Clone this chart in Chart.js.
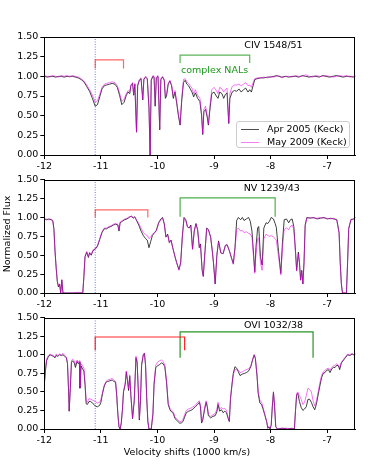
<!DOCTYPE html>
<html>
<head>
<meta charset="utf-8">
<script src="https://cdn.jsdelivr.net/npm/chart.js@4.4.0/dist/chart.umd.min.js"></script>
<style>
  body { margin: 0; background: #fff; }
  #wrap { position: relative; width: 374px; height: 467px; font-family: "DejaVu Sans", sans-serif; font-size: 9.5px; color: #000; }
  canvas { position: absolute; left: 0; }
  .txt { position: absolute; white-space: nowrap; line-height: 12px; height: 12px; }
  #legend { position: absolute; left: 236px; top: 121px; width: 114px; height: 27px; box-sizing: border-box;
            border: 1px solid #ccc; border-radius: 3px; background: rgba(255,255,255,0.8); }
  .swatch { position: absolute; height: 1px; width: 18px; left: 4px; }
</style>
</head>
<body>
<div id="wrap">
  <canvas id="c1" width="374" height="172" style="top:0px"></canvas>
  <canvas id="c2" width="374" height="138" style="top:172px"></canvas>
  <canvas id="c3" width="374" height="157" style="top:310px"></canvas>
  <div id="legend">
    <div class="swatch" style="top:7px; background:rgba(0,0,0,0.7)"></div>
    <div class="txt" style="left:30px; top:1px">Apr 2005 (Keck)</div>
    <div class="swatch" style="top:20px; background:rgba(238,0,238,0.5)"></div>
    <div class="txt" style="left:30px; top:14px">May 2009 (Keck)</div>
  </div>
  <div class="txt" style="left:-43px; top:228px; width:100px; text-align:center; transform:rotate(-90deg)">Normalized Flux</div>
  <div class="txt" style="left:87px; top:446px; width:200px; text-align:center">Velocity shifts (1000 km/s)</div>
</div>
<script>
// axis ticks
const xTicks = [-12, -11, -10, -9, -8, -7];
const yTicks = [0, 0.25, 0.5, 0.75, 1.0, 1.25, 1.5];

// CIV 1548/51
const civVel = [
  -12.00,-11.95,-11.90,-11.85,-11.80,-11.75,-11.70,-11.65,-11.60,-11.55,
  -11.50,-11.45,-11.40,-11.35,-11.30,-11.25,-11.20,-11.15,-11.10,-11.06,
  -11.02,-10.98,-10.94,-10.90,-10.85,-10.80,-10.75,-10.71,-10.67,-10.63,
  -10.59,-10.55,-10.52,-10.49,-10.47,-10.44,-10.42,-10.40,-10.37,-10.35,
  -10.32,-10.29,-10.26,-10.24,-10.21,-10.18,-10.15,-10.13,-10.11,-10.08,
  -10.06,-10.04,-10.02,-9.99,-9.96,-9.94,-9.91,-9.88,-9.86,-9.84,
  -9.81,-9.78,-9.75,-9.72,-9.69,-9.66,-9.63,-9.60,-9.57,-9.54,
  -9.51,-9.48,-9.45,-9.42,-9.39,-9.36,-9.33,-9.29,-9.25,-9.22,
  -9.20,-9.18,-9.15,-9.12,-9.10,-9.07,-9.04,-9.00,-8.96,-8.93,
  -8.90,-8.86,-8.83,-8.80,-8.77,-8.74,-8.72,-8.68,-8.64,-8.60,
  -8.56,-8.52,-8.48,-8.44,-8.40,-8.37,-8.34,-8.31,-8.28,-8.24,
  -8.18,-8.12,-8.06,-8.00,-7.94,-7.90,-7.86,-7.80,-7.74,-7.68,
  -7.62,-7.56,-7.50,-7.44,-7.38,-7.32,-7.26,-7.20,-7.14,-7.08,
  -7.02,-6.96,-6.90,-6.84,-6.78,-6.72,-6.66,-6.60,-6.54,-6.50
];
const civApr = [
  1.00,0.99,1.00,1.00,0.99,1.00,1.00,0.99,1.00,1.00,
  1.00,0.99,0.98,0.96,0.93,0.87,0.81,0.72,0.62,0.64,
  0.74,0.84,0.88,0.89,0.90,0.91,0.90,0.86,0.76,0.64,
  0.67,0.76,0.80,0.78,0.88,0.91,0.76,0.90,0.29,0.88,
  0.95,0.97,0.70,0.96,0.99,0.97,0.60,0.00,0.95,1.00,
  0.99,0.62,0.98,1.00,0.32,0.96,0.99,0.95,0.72,0.75,
  0.90,0.94,0.88,0.72,0.80,0.66,0.50,0.38,0.70,0.92,
  0.95,0.90,0.88,0.84,0.80,0.74,0.79,0.72,0.68,0.50,
  0.26,0.55,0.58,0.48,0.38,0.60,0.78,0.80,0.75,0.72,
  0.80,0.78,0.72,0.77,0.79,0.40,0.72,0.80,0.82,0.81,
  0.84,0.80,0.83,0.85,0.80,0.83,0.80,0.88,0.96,0.97,
  0.98,0.98,0.99,0.99,1.00,1.01,1.00,0.99,1.00,0.99,
  1.00,1.00,0.99,1.01,1.00,0.99,1.00,1.00,0.99,1.01,
  1.00,0.99,1.00,1.01,1.00,0.99,1.00,1.00,0.99,1.00
];
const civMay = [
  1.01,1.00,0.99,1.01,1.00,0.99,1.01,1.00,1.01,0.99,
  1.01,1.00,0.99,0.97,0.94,0.89,0.83,0.76,0.67,0.69,
  0.77,0.86,0.90,0.91,0.92,0.93,0.92,0.88,0.79,0.68,
  0.71,0.78,0.82,0.80,0.89,0.92,0.77,0.91,0.29,0.89,
  0.96,0.98,0.71,0.97,1.00,0.98,0.61,0.00,0.96,1.01,
  1.00,0.63,0.99,1.01,0.33,0.97,1.00,0.96,0.74,0.77,
  0.91,0.95,0.89,0.74,0.82,0.68,0.52,0.39,0.73,0.96,
  0.97,0.93,0.91,0.88,0.85,0.78,0.83,0.76,0.72,0.53,
  0.27,0.58,0.62,0.50,0.39,0.64,0.83,0.86,0.82,0.78,
  0.86,0.84,0.80,0.83,0.85,0.41,0.78,0.87,0.89,0.89,
  0.90,0.88,0.90,0.92,0.88,0.89,0.86,0.92,0.97,0.98,
  0.98,0.99,0.98,1.00,0.99,1.00,1.01,0.98,1.00,1.00,
  0.99,1.01,1.00,1.00,1.02,1.00,0.99,1.01,1.00,1.00,
  1.01,1.00,0.99,1.00,1.01,1.00,1.01,0.99,1.00,1.01
];

// NV 1239/43
const nvVel = [
  -12.00,-11.96,-11.92,-11.88,-11.85,-11.83,-11.81,-11.79,-11.77,-11.75,
  -11.73,-11.71,-11.69,-11.67,-11.60,-11.50,-11.40,-11.32,-11.30,-11.28,
  -11.25,-11.22,-11.20,-11.17,-11.14,-11.10,-11.06,-11.02,-10.98,-10.94,
  -10.90,-10.86,-10.82,-10.78,-10.74,-10.70,-10.68,-10.66,-10.62,-10.58,
  -10.54,-10.50,-10.46,-10.43,-10.40,-10.37,-10.33,-10.29,-10.25,-10.21,
  -10.18,-10.15,-10.12,-10.09,-10.05,-10.02,-9.98,-9.94,-9.91,-9.88,
  -9.85,-9.82,-9.79,-9.76,-9.73,-9.69,-9.66,-9.62,-9.59,-9.56,
  -9.53,-9.50,-9.47,-9.44,-9.41,-9.38,-9.35,-9.32,-9.29,-9.26,
  -9.24,-9.21,-9.19,-9.16,-9.13,-9.10,-9.06,-9.03,-9.01,-8.98,
  -8.95,-8.92,-8.88,-8.84,-8.80,-8.77,-8.73,-8.69,-8.66,-8.63,
  -8.60,-8.57,-8.53,-8.50,-8.47,-8.43,-8.39,-8.36,-8.33,-8.30,
  -8.28,-8.26,-8.23,-8.21,-8.18,-8.15,-8.12,-8.08,-8.05,-8.02,
  -7.99,-7.95,-7.92,-7.90,-7.86,-7.82,-7.79,-7.76,-7.72,-7.68,
  -7.65,-7.62,-7.59,-7.56,-7.54,-7.51,-7.49,-7.47,-7.45,-7.43,
  -7.41,-7.39,-7.36,-7.30,-7.24,-7.18,-7.12,-7.06,-7.00,-6.94,
  -6.88,-6.83,-6.79,-6.77,-6.75,-6.73,-6.68,-6.66,-6.64,-6.62,
  -6.58,-6.54,-6.50
];
const nvApr = [
  0.98,0.97,0.98,0.97,0.96,0.85,0.55,0.33,0.15,0.08,
  0.12,0.00,0.17,0.00,0.00,0.00,0.00,0.00,0.22,0.48,
  0.54,0.47,0.53,0.50,0.56,0.58,0.62,0.71,0.80,0.85,
  0.85,0.87,0.88,0.90,0.91,0.90,0.82,0.93,0.95,0.97,
  0.98,1.00,1.02,0.99,1.01,0.96,0.90,0.82,0.76,0.72,
  0.70,0.60,0.68,0.76,0.80,0.83,0.93,0.98,1.00,0.92,
  0.74,0.78,0.67,0.70,0.60,0.48,0.40,0.31,0.40,0.75,
  1.00,0.97,0.88,0.86,0.90,0.58,0.82,0.92,0.84,0.60,
  0.65,0.30,0.22,0.55,0.86,0.84,0.74,0.55,0.40,0.12,
  0.50,0.69,0.53,0.52,0.63,0.64,0.56,0.46,0.39,0.60,
  0.96,1.00,0.97,1.00,0.96,0.98,1.00,0.95,0.82,0.50,
  0.28,0.60,0.86,0.88,0.48,0.37,0.86,0.93,0.92,0.95,
  1.00,0.98,0.92,0.87,0.55,0.26,0.68,0.97,0.98,0.93,
  0.97,0.98,0.88,0.55,0.30,0.54,0.40,0.17,0.30,0.12,
  0.40,0.90,1.00,0.99,1.00,0.98,0.99,1.00,0.98,0.99,
  0.98,0.97,0.80,0.40,0.12,0.00,0.00,0.00,0.40,0.85,
  0.97,0.98,1.00
];
const nvMay = [
  0.97,0.98,0.97,0.98,0.95,0.84,0.54,0.33,0.16,0.09,
  0.12,0.00,0.18,0.00,0.00,0.00,0.01,0.00,0.23,0.49,
  0.55,0.48,0.54,0.51,0.57,0.59,0.63,0.72,0.81,0.86,
  0.86,0.88,0.89,0.91,0.92,0.91,0.83,0.94,0.96,0.98,
  0.99,1.01,1.01,1.00,1.00,0.97,0.92,0.86,0.80,0.77,
  0.76,0.72,0.74,0.78,0.80,0.82,0.92,0.97,0.99,0.91,
  0.74,0.77,0.66,0.70,0.60,0.48,0.40,0.30,0.40,0.76,
  0.99,0.96,0.87,0.86,0.89,0.58,0.82,0.91,0.83,0.60,
  0.64,0.30,0.22,0.56,0.85,0.84,0.74,0.55,0.40,0.12,
  0.50,0.68,0.53,0.52,0.63,0.64,0.56,0.46,0.38,0.58,
  0.84,0.86,0.82,0.83,0.80,0.81,0.79,0.78,0.74,0.46,
  0.26,0.50,0.72,0.73,0.40,0.30,0.72,0.78,0.76,0.75,
  0.76,0.74,0.72,0.70,0.48,0.24,0.60,0.84,0.86,0.84,
  0.88,0.90,0.84,0.52,0.29,0.52,0.39,0.17,0.29,0.12,
  0.39,0.88,0.99,1.00,0.99,0.99,1.00,0.99,0.99,0.98,
  0.99,0.96,0.79,0.40,0.12,0.00,0.00,0.00,0.41,0.86,
  0.98,0.97,1.00
];

// OVI 1032/38
const oviVel = [
  -12.00,-11.98,-11.96,-11.93,-11.90,-11.87,-11.84,-11.81,-11.79,-11.76,
  -11.73,-11.70,-11.67,-11.64,-11.61,-11.59,-11.57,-11.56,-11.54,-11.52,
  -11.50,-11.47,-11.45,-11.42,-11.40,-11.38,-11.37,-11.35,-11.33,-11.30,
  -11.28,-11.26,-11.24,-11.21,-11.18,-11.15,-11.12,-11.10,-11.06,-11.02,
  -11.00,-10.97,-10.94,-10.91,-10.88,-10.84,-10.80,-10.77,-10.74,-10.72,
  -10.70,-10.68,-10.66,-10.64,-10.62,-10.60,-10.57,-10.55,-10.53,-10.51,
  -10.49,-10.47,-10.44,-10.41,-10.38,-10.36,-10.34,-10.32,-10.30,-10.28,
  -10.25,-10.23,-10.21,-10.19,-10.17,-10.15,-10.11,-10.08,-10.06,-10.03,
  -10.00,-9.96,-9.93,-9.90,-9.87,-9.84,-9.81,-9.78,-9.75,-9.72,
  -9.69,-9.65,-9.61,-9.58,-9.55,-9.52,-9.49,-9.45,-9.41,-9.37,
  -9.33,-9.29,-9.26,-9.24,-9.22,-9.20,-9.17,-9.14,-9.12,-9.10,
  -9.06,-9.02,-8.98,-8.95,-8.93,-8.90,-8.87,-8.84,-8.81,-8.78,
  -8.75,-8.73,-8.71,-8.68,-8.66,-8.63,-8.60,-8.57,-8.54,-8.50,
  -8.46,-8.43,-8.39,-8.35,-8.32,-8.29,-8.27,-8.24,-8.22,-8.19,
  -8.16,-8.13,-8.10,-8.07,-8.05,-8.03,-8.01,-7.99,-7.97,-7.95,
  -7.93,-7.91,-7.88,-7.80,-7.70,-7.62,-7.58,-7.56,-7.54,-7.52,
  -7.49,-7.46,-7.43,-7.40,-7.37,-7.34,-7.31,-7.28,-7.25,-7.22,
  -7.19,-7.16,-7.13,-7.10,-7.07,-7.04,-7.01,-6.98,-6.95,-6.92,
  -6.89,-6.86,-6.83,-6.80,-6.78,-6.75,-6.71,-6.68,-6.64,-6.60,
  -6.56,-6.53,-6.50
];
const oviApr = [
  0.60,0.78,0.92,0.97,1.00,0.99,0.98,0.96,0.99,0.98,
  1.00,0.99,1.00,0.98,0.96,0.88,0.50,0.24,0.55,0.90,
  0.92,0.89,0.83,0.91,0.88,0.90,0.55,0.85,0.82,0.78,
  0.60,0.34,0.33,0.37,0.37,0.35,0.33,0.31,0.30,0.32,
  0.36,0.48,0.58,0.63,0.64,0.65,0.66,0.64,0.63,0.45,
  0.20,0.03,0.00,0.08,0.25,0.50,0.60,0.77,0.65,0.52,
  0.71,0.45,0.14,0.38,0.96,0.90,0.54,0.12,0.38,0.86,
  1.00,1.02,0.85,0.42,0.10,0.00,0.00,0.20,0.60,0.83,
  0.85,0.87,0.89,0.88,0.84,0.63,0.33,0.26,0.23,0.21,
  0.14,0.11,0.08,0.08,0.10,0.16,0.22,0.24,0.25,0.27,
  0.30,0.33,0.36,0.30,0.08,0.12,0.25,0.36,0.30,0.18,
  0.15,0.17,0.18,0.23,0.33,0.24,0.26,0.22,0.24,0.22,
  0.14,0.10,0.40,0.62,0.75,0.84,0.82,0.77,0.72,0.74,
  0.75,0.76,0.78,0.84,0.93,1.00,0.95,0.71,0.48,0.35,
  0.33,0.26,0.18,0.10,0.01,0.03,0.00,0.05,0.30,0.50,
  0.30,0.03,0.00,0.01,0.00,0.01,0.00,0.25,0.46,0.48,
  0.37,0.29,0.25,0.27,0.30,0.40,0.40,0.36,0.30,0.26,
  0.34,0.46,0.58,0.69,0.75,0.76,0.79,0.80,0.76,0.81,
  0.83,0.83,0.86,0.85,0.80,0.89,0.93,0.96,1.00,0.99,
  1.01,1.00,1.01
];
const oviMay = [
  0.61,0.80,0.94,0.99,1.01,1.00,0.99,0.97,1.01,0.99,
  1.01,1.00,1.02,0.99,0.97,0.89,0.51,0.24,0.56,0.92,
  0.94,0.92,0.86,0.93,0.90,0.92,0.56,0.88,0.86,0.82,
  0.62,0.37,0.36,0.41,0.40,0.39,0.38,0.37,0.35,0.36,
  0.40,0.50,0.59,0.64,0.66,0.67,0.68,0.66,0.64,0.46,
  0.20,0.03,0.00,0.08,0.26,0.51,0.62,0.78,0.67,0.54,
  0.73,0.47,0.15,0.40,0.98,0.92,0.56,0.13,0.40,0.88,
  1.01,1.02,0.86,0.43,0.11,0.00,0.00,0.21,0.62,0.86,
  0.90,0.92,0.93,0.91,0.86,0.65,0.35,0.28,0.25,0.23,
  0.16,0.13,0.10,0.10,0.13,0.19,0.25,0.27,0.28,0.30,
  0.32,0.36,0.38,0.32,0.09,0.13,0.28,0.38,0.32,0.20,
  0.17,0.19,0.21,0.26,0.36,0.27,0.29,0.27,0.28,0.25,
  0.15,0.11,0.41,0.62,0.73,0.80,0.80,0.79,0.76,0.77,
  0.79,0.80,0.81,0.85,0.93,1.00,0.96,0.73,0.50,0.39,
  0.36,0.28,0.19,0.10,0.02,0.03,0.01,0.06,0.31,0.50,
  0.31,0.04,0.00,0.01,0.01,0.00,0.01,0.26,0.48,0.50,
  0.45,0.40,0.33,0.36,0.45,0.55,0.53,0.50,0.38,0.31,
  0.38,0.50,0.62,0.72,0.77,0.79,0.81,0.82,0.79,0.83,
  0.85,0.86,0.88,0.86,0.82,0.90,0.94,0.97,1.01,1.00,
  1.02,1.00,1.01
];

// brackets: [x start, x end, top level, leg bottom]
const civRed = [-11.1, -10.6, 1.21, 1.10];
const civGreen = [-9.6, -8.37, 1.27, 1.17];
const nvRed = [-11.1, -10.17, 1.10, 1.00];
const nvGreen = [-9.6, -7.92, 1.26, 1.01];
const oviRed = [-11.1, -9.52, 1.24, 1.06];
const oviGreen = [-9.6, -7.25, 1.31, 0.96];
const markVel = -11.1;

Chart.defaults.font.family = '"DejaVu Sans", sans-serif';
Chart.defaults.font.size = 9.5;
Chart.defaults.color = '#000';

function bracket(b) {
    return [{x: b[0], y: b[3]}, {x: b[0], y: b[2]}, {x: b[1], y: b[2]}, {x: b[1], y: b[3]}];
}

// draws the box round the plot area and the text labels
const panelDeco = {
    id: 'panelDeco',
    afterDatasetsDraw(chart, args, opts) {
        const ctx = chart.ctx;
        const a = chart.chartArea;
        const xs = chart.scales.x, ys = chart.scales.y;
        ctx.save();
        ctx.textAlign = 'center';
        ctx.textBaseline = 'middle';
        ctx.font = '9.5px "DejaVu Sans"';
        for (const t of opts.labels) {
            ctx.fillStyle = t.color;
            ctx.fillText(t.text, xs.getPixelForValue(t.x), ys.getPixelForValue(t.y));
        }
        ctx.strokeStyle = '#000';
        ctx.lineWidth = 1;
        ctx.strokeRect(Math.round(a.left) + 0.5, Math.round(a.top) + 0.5,
                       Math.round(a.right - a.left) - 1, Math.round(a.bottom - a.top));
        ctx.restore();
    }
};

function makePanel(id, vel, apr, may, red, green, redColor, greenColor, labels, padTop, xHeight) {
    const ctx = document.getElementById(id).getContext('2d');
    new Chart(ctx, {
        type: 'line',
        data: {
            datasets: [
                {data: bracket(red), borderColor: redColor, borderWidth: 1.2, order: 0},
                {data: bracket(green), borderColor: greenColor, borderWidth: 1.2, order: 0},
                {data: [{x: markVel, y: 0}, {x: markVel, y: 1.5}], borderColor: 'rgba(0,0,255,0.7)',
                 borderWidth: 0.8, borderDash: [1, 1.5], order: 0},
                {data: vel.map((v, i) => ({x: v, y: may[i]})), borderColor: 'rgba(238,0,238,0.55)',
                 borderWidth: 1, order: 1},
                {data: vel.map((v, i) => ({x: v, y: apr[i]})), borderColor: 'rgba(0,0,0,0.75)',
                 borderWidth: 1, order: 2}
            ]
        },
        options: {
            responsive: false,
            animation: false,
            events: [],
            elements: {point: {radius: 0}, line: {tension: 0, fill: false}},
            layout: {padding: {top: padTop, right: 18.5, left: 0, bottom: 0}},
            plugins: {legend: {display: false}, tooltip: {enabled: false}, panelDeco: {labels: labels}},
            scales: {
                x: {
                    type: 'linear', min: -12, max: -6.5,
                    afterBuildTicks: s => { s.ticks = xTicks.map(v => ({value: v})); },
                    afterFit: s => { s.height = xHeight; },
                    ticks: {callback: v => String(v), padding: 2, maxRotation: 0, autoSkip: false},
                    grid: {drawOnChartArea: false, drawTicks: true, tickLength: 4, color: '#000'},
                    border: {display: true, color: '#000'}
                },
                y: {
                    min: 0, max: 1.5,
                    afterBuildTicks: s => { s.ticks = yTicks.map(v => ({value: v})); },
                    afterFit: s => { s.width = 44.3; },
                    ticks: {callback: v => v.toFixed(2), padding: 2},
                    grid: {drawOnChartArea: false, drawTicks: true, tickLength: 4, color: '#000'},
                    border: {display: true, color: '#000'}
                }
            }
        },
        plugins: [panelDeco]
    });
}

makePanel('c1', civVel, civApr, civMay, civRed, civGreen, 'rgba(255,0,0,0.6)', 'rgba(0,140,0,0.65)',
    [{text: 'CIV 1548/51', x: -7.95, y: 1.39, color: '#000'},
     {text: 'complex NALs', x: -8.99, y: 1.08, color: 'rgba(0,140,0,0.9)'}], 37, 17);
makePanel('c2', nvVel, nvApr, nvMay, nvRed, nvGreen, 'rgba(255,0,0,0.6)', 'rgba(0,140,0,0.7)',
    [{text: 'NV 1239/43', x: -7.98, y: 1.38, color: '#000'}], 2, 17);
makePanel('c3', oviVel, oviApr, oviMay, oviRed, oviGreen, 'rgba(255,0,0,0.85)', 'rgba(0,128,0,0.85)',
    [{text: 'OVI 1032/38', x: -7.95, y: 1.39, color: '#000'}], 1, 38);
</script>
</body>
</html>
